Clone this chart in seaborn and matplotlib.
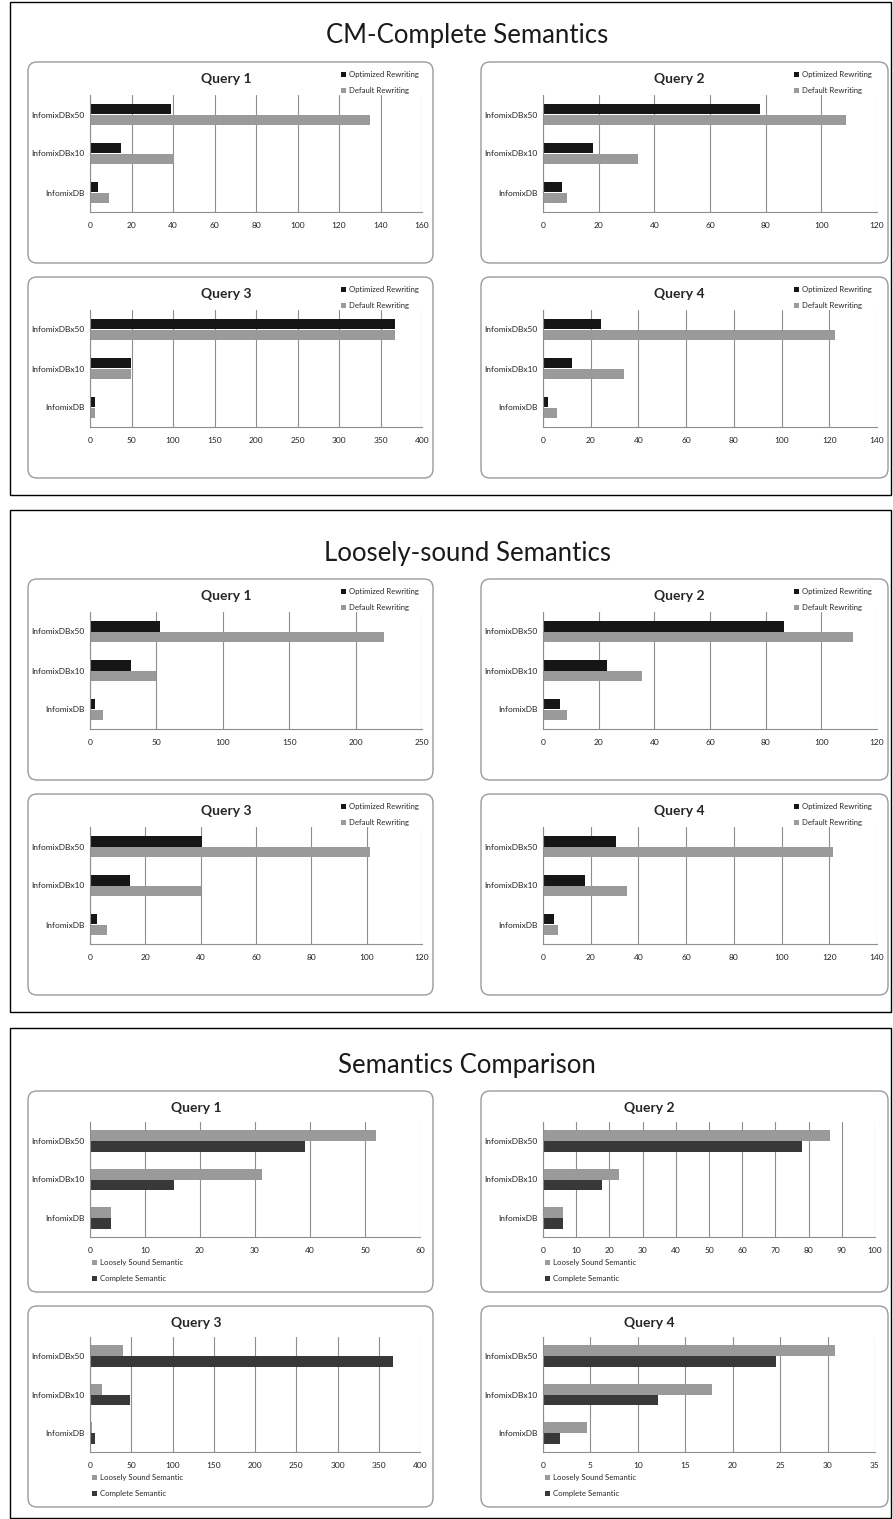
import numpy as np
import pandas as pd
import matplotlib
matplotlib.use("Agg")
import matplotlib.pyplot as plt
from matplotlib.patches import Rectangle, FancyBboxPatch
import seaborn as sns

sns.set_style("white")
plt.rcParams['font.family'] = ['Lato', 'DejaVu Sans']

W, H = 893, 1519

# data
cats = ["InfomixDBx50", "InfomixDBx10", "InfomixDB"]
queries = ["Query 1", "Query 2", "Query 3", "Query 4"]

# CM-Complete Semantics
cm_opt = [[39, 15, 4], [78, 18, 7], [368, 49, 6], [24.5, 12, 2]]
cm_def = [[135, 40.5, 9], [109, 34, 8.5], [368, 49, 6], [122.5, 34, 6]]
cm_xmax = [160, 120, 400, 140]
cm_step = [20, 20, 50, 20]

# Loosely-sound Semantics
ls_opt = [[52.5, 31, 4], [86.5, 23, 6], [40.6, 14.5, 2.6], [30.8, 17.8, 4.6]]
ls_def = [[221.5, 49.5, 10], [111.5, 35.5, 8.5], [101.2, 40, 6.1], [121.7, 35.4, 6.4]]
ls_xmax = [250, 120, 120, 140]
ls_step = [50, 20, 20, 20]

# Semantics Comparison
cmp_loose = [[52, 31.2, 3.9], [86.4, 22.9, 5.9], [40.4, 14, 2.4], [30.8, 17.8, 4.6]]
cmp_complete = [[39, 15.2, 3.9], [77.9, 17.9, 5.9], [367.6, 48.8, 5.6], [24.6, 12.1, 1.75]]
cmp_xmax = [60, 100, 400, 35]
cmp_step = [10, 10, 50, 5]

fig = plt.figure(figsize=(W / 100, H / 100), dpi=100)
bg = fig.add_axes([0, 0, 1, 1])
bg.set_xlim(0, W)
bg.set_ylim(H, 0)
bg.axis("off")


def frac(x, y, w, h):
    return [x / W, 1 - (y + h) / H, w / W, h / H]


def panel(px, py, pw, title, names, a, b, xmax, step, colors, legend_below):
    bg.add_patch(FancyBboxPatch((px, py), pw, 201, boxstyle="round,pad=0,rounding_size=9",
                                fc="white", ec="#9a9a9a", lw=1.0))
    if legend_below:
        ax = fig.add_axes(frac(px + 62, py + 31, pw - 75, 115))
    else:
        ax = fig.add_axes(frac(px + 62, py + 33, pw - 73, 117))
    ax.patch.set_alpha(0)
    df = pd.DataFrame({"db": cats * 2, "value": list(a) + list(b),
                       "series": [names[0]] * 3 + [names[1]] * 3})
    sns.barplot(data=df, x="value", y="db", hue="series", order=cats, hue_order=names,
                palette=colors, orient="h", width=0.56, saturation=1, linewidth=0, ax=ax)
    ax.set_xlim(0, xmax)
    ax.set_ylim(2.5, -0.5)
    ax.set_xticks(np.arange(0, xmax + step / 2, step))
    ax.set_yticks([-0.5, 0.5, 1.5, 2.5], minor=True)
    ax.xaxis.grid(True, color="#8e8e8e", lw=0.8)
    ax.set_axisbelow(True)
    for s in ["top", "right"]:
        ax.spines[s].set_visible(False)
    for s in ["left", "bottom"]:
        ax.spines[s].set_color("#8e8e8e")
        ax.spines[s].set_linewidth(0.8)
    ax.tick_params(axis="x", length=3, width=0.8, color="#8e8e8e", labelsize=6, labelcolor="#222222", pad=4)
    ax.tick_params(axis="y", which="major", length=0, labelsize=6, labelcolor="#222222", pad=4)
    ax.tick_params(axis="y", which="minor", length=3, width=0.8, color="#8e8e8e")
    ax.set_xlabel("")
    ax.set_ylabel("")
    handles, labels = ax.get_legend_handles_labels()
    if legend_below:
        bg.text(px + 168, py + 17, title, ha="center", va="center", fontsize=10, fontweight="bold")
        ax.legend(handles, labels, loc="upper left", bbox_to_anchor=(px + 64, py + 168),
                  bbox_transform=bg.transData, frameon=False, fontsize=5.6, handlelength=0.6,
                  handleheight=0.6, handletextpad=0.4, labelspacing=1.2, borderaxespad=0, borderpad=0)
    else:
        bg.text(px + 198, py + 17, title, ha="center", va="center", fontsize=10, fontweight="bold")
        ax.legend(handles, labels, loc="upper left", bbox_to_anchor=(px + 313, py + 9),
                  bbox_transform=bg.transData, frameon=False, fontsize=5.6, handlelength=0.6,
                  handleheight=0.6, handletextpad=0.4, labelspacing=1.2, borderaxespad=0, borderpad=0)


blocks = [
    ("CM-Complete Semantics", 2, 495, 36, 62, ["Optimized Rewriting", "Default Rewriting"],
     cm_opt, cm_def, cm_xmax, cm_step, ["#161616", "#9a9a9a"], False),
    ("Loosely-sound Semantics", 510, 1012, 553, 579, ["Optimized Rewriting", "Default Rewriting"],
     ls_opt, ls_def, ls_xmax, ls_step, ["#161616", "#9a9a9a"], False),
    ("Semantics Comparison", 1028, 1518, 1066, 1091, ["Loosely Sound Semantic", "Complete Semantic"],
     cmp_loose, cmp_complete, cmp_xmax, cmp_step, ["#9a9a9a", "#383838"], True),
]

for (stitle, y0, y1, ty, py, names, A, B, xmaxs, steps, colors, below) in blocks:
    bg.add_patch(Rectangle((10, y0), 881, y1 - y0, fc="none", ec="black", lw=1.0))
    bg.text(467, ty, stitle, ha="center", va="center", fontsize=18.5, color="#1a1a1a")
    for i in range(4):
        px = 28 if i % 2 == 0 else 481
        pw = 405 if i % 2 == 0 else 407
        yy = py + (i // 2) * 215
        panel(px, yy, pw, queries[i], names, A[i], B[i], xmaxs[i], steps[i], colors, below)

fig.savefig("out.png", dpi=100)
